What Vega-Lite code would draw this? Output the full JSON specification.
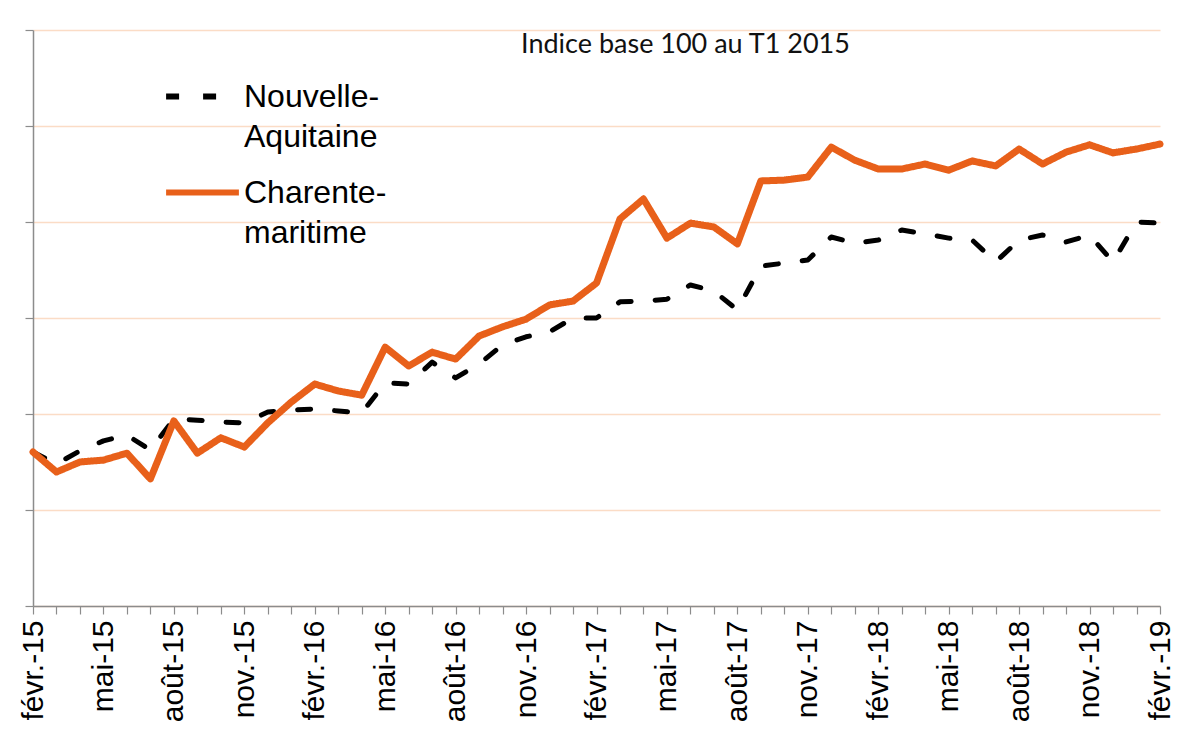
{
  "$schema": "https://vega.github.io/schema/vega-lite/v6.json",
  "width": 1127,
  "height": 576,
  "autosize": {"type": "none"},
  "padding": {"left": 33, "top": 30, "right": 34, "bottom": 126},
  "background": "white",
  "title": {
    "text": "Indice base 100 au T1 2015",
    "font": "Lato",
    "fontSize": 27,
    "fontWeight": "normal",
    "color": "#111111",
    "anchor": "middle",
    "orient": "top",
    "offset": -30,
    "dx": 89
  },
  "config": {
    "view": {"stroke": null},
    "font": "Liberation Sans"
  },
  "data": {
    "values": [
      {"mois": "févr.-15", "Nouvelle-Aquitaine": 100.01, "Charente-maritime": 100.01},
      {"mois": "mars-15", "Nouvelle-Aquitaine": 99.70, "Charente-maritime": 99.49},
      {"mois": "avr.-15", "Nouvelle-Aquitaine": 100.04, "Charente-maritime": 99.75},
      {"mois": "mai-15", "Nouvelle-Aquitaine": 100.30, "Charente-maritime": 99.80},
      {"mois": "juin-15", "Nouvelle-Aquitaine": 100.45, "Charente-maritime": 99.98},
      {"mois": "juil.-15", "Nouvelle-Aquitaine": 100.06, "Charente-maritime": 99.31},
      {"mois": "août-15", "Nouvelle-Aquitaine": 100.87, "Charente-maritime": 100.82},
      {"mois": "sept.-15", "Nouvelle-Aquitaine": 100.84, "Charente-maritime": 99.98},
      {"mois": "oct.-15", "Nouvelle-Aquitaine": 100.79, "Charente-maritime": 100.38},
      {"mois": "nov.-15", "Nouvelle-Aquitaine": 100.77, "Charente-maritime": 100.14},
      {"mois": "déc.-15", "Nouvelle-Aquitaine": 101.05, "Charente-maritime": 100.77},
      {"mois": "janv.-16", "Nouvelle-Aquitaine": 101.10, "Charente-maritime": 101.31},
      {"mois": "févr.-16", "Nouvelle-Aquitaine": 101.13, "Charente-maritime": 101.78},
      {"mois": "mars-16", "Nouvelle-Aquitaine": 101.08, "Charente-maritime": 101.60},
      {"mois": "avr.-16", "Nouvelle-Aquitaine": 101.03, "Charente-maritime": 101.49},
      {"mois": "mai-16", "Nouvelle-Aquitaine": 101.81, "Charente-maritime": 102.74},
      {"mois": "juin-16", "Nouvelle-Aquitaine": 101.78, "Charente-maritime": 102.25},
      {"mois": "juil.-16", "Nouvelle-Aquitaine": 102.35, "Charente-maritime": 102.61},
      {"mois": "août-16", "Nouvelle-Aquitaine": 101.94, "Charente-maritime": 102.43},
      {"mois": "sept.-16", "Nouvelle-Aquitaine": 102.30, "Charente-maritime": 103.03},
      {"mois": "oct.-16", "Nouvelle-Aquitaine": 102.80, "Charente-maritime": 103.27},
      {"mois": "nov.-16", "Nouvelle-Aquitaine": 103.01, "Charente-maritime": 103.47},
      {"mois": "déc.-16", "Nouvelle-Aquitaine": 103.14, "Charente-maritime": 103.84},
      {"mois": "janv.-17", "Nouvelle-Aquitaine": 103.50, "Charente-maritime": 103.94},
      {"mois": "févr.-17", "Nouvelle-Aquitaine": 103.50, "Charente-maritime": 104.41},
      {"mois": "mars-17", "Nouvelle-Aquitaine": 103.92, "Charente-maritime": 106.08},
      {"mois": "avr.-17", "Nouvelle-Aquitaine": 103.94, "Charente-maritime": 106.60},
      {"mois": "mai-17", "Nouvelle-Aquitaine": 103.99, "Charente-maritime": 105.58},
      {"mois": "juin-17", "Nouvelle-Aquitaine": 104.36, "Charente-maritime": 105.97},
      {"mois": "juil.-17", "Nouvelle-Aquitaine": 104.20, "Charente-maritime": 105.87},
      {"mois": "août-17", "Nouvelle-Aquitaine": 103.71, "Charente-maritime": 105.43},
      {"mois": "sept.-17", "Nouvelle-Aquitaine": 104.85, "Charente-maritime": 107.07},
      {"mois": "oct.-17", "Nouvelle-Aquitaine": 104.93, "Charente-maritime": 107.09},
      {"mois": "nov.-17", "Nouvelle-Aquitaine": 105.01, "Charente-maritime": 107.17},
      {"mois": "déc.-17", "Nouvelle-Aquitaine": 105.61, "Charente-maritime": 107.95},
      {"mois": "janv.-18", "Nouvelle-Aquitaine": 105.45, "Charente-maritime": 107.61},
      {"mois": "févr.-18", "Nouvelle-Aquitaine": 105.53, "Charente-maritime": 107.38},
      {"mois": "mars-18", "Nouvelle-Aquitaine": 105.79, "Charente-maritime": 107.38},
      {"mois": "avr.-18", "Nouvelle-Aquitaine": 105.69, "Charente-maritime": 107.51},
      {"mois": "mai-18", "Nouvelle-Aquitaine": 105.58, "Charente-maritime": 107.35},
      {"mois": "juin-18", "Nouvelle-Aquitaine": 105.53, "Charente-maritime": 107.59},
      {"mois": "juil.-18", "Nouvelle-Aquitaine": 104.96, "Charente-maritime": 107.46},
      {"mois": "août-18", "Nouvelle-Aquitaine": 105.53, "Charente-maritime": 107.90},
      {"mois": "sept.-18", "Nouvelle-Aquitaine": 105.66, "Charente-maritime": 107.51},
      {"mois": "oct.-18", "Nouvelle-Aquitaine": 105.48, "Charente-maritime": 107.82},
      {"mois": "nov.-18", "Nouvelle-Aquitaine": 105.66, "Charente-maritime": 108.01},
      {"mois": "déc.-18", "Nouvelle-Aquitaine": 104.96, "Charente-maritime": 107.80},
      {"mois": "janv.-19", "Nouvelle-Aquitaine": 106.00, "Charente-maritime": 107.90},
      {"mois": "févr.-19", "Nouvelle-Aquitaine": 105.97, "Charente-maritime": 108.03}
    ]
  },
  "transform": [
    {"fold": ["Nouvelle-Aquitaine", "Charente-maritime"], "as": ["serie", "valeur"]}
  ],
  "encoding": {
    "x": {
      "field": "mois",
      "type": "ordinal",
      "sort": null,
      "scale": {"type": "point", "padding": 0},
      "axis": {
        "title": null,
        "grid": false,
        "domainColor": "#8c8c8c",
        "domainWidth": 1.5,
        "tickColor": "#8c8c8c",
        "tickWidth": 1.2,
        "tickSize": 8,
        "labelAngle": -90,
        "labelAlign": "right",
        "labelBaseline": "middle",
        "labelPadding": 6,
        "labelFont": "Liberation Sans",
        "labelFontSize": 30,
        "labelColor": "#000000",
        "labelOverlap": false,
        "labelLimit": 0,
        "labelExpr": "test(/^(févr|mai|août|nov)/, datum.value) ? datum.value : ''"
      }
    },
    "y": {
      "field": "valeur",
      "type": "quantitative",
      "scale": {"domain": [96, 111], "zero": false, "nice": false},
      "axis": {
        "title": null,
        "labels": false,
        "values": [96, 98.5, 101, 103.5, 106, 108.5, 111],
        "grid": true,
        "gridColor": "#FBDCC6",
        "gridWidth": 1.5,
        "domainColor": "#8c8c8c",
        "domainWidth": 1.5,
        "tickColor": "#8c8c8c",
        "tickWidth": 1.2,
        "tickSize": 8
      }
    },
    "color": {
      "field": "serie",
      "type": "nominal",
      "scale": {"domain": ["Nouvelle-Aquitaine", "Charente-maritime"], "range": ["#000000", "#E8601A"]},
      "legend": {
        "title": null,
        "orient": "none",
        "legendX": 130,
        "legendY": 27,
        "direction": "vertical",
        "symbolType": "stroke",
        "symbolSize": 5300,
        "symbolStrokeWidth": 6,
        "labelFont": "Liberation Sans",
        "labelFontSize": 32,
        "labelColor": "#000000",
        "labelLimit": 0,
        "labelOffset": 2,
        "rowPadding": -6,
        "padding": 0,
        "labelExpr": "datum.label == 'Nouvelle-Aquitaine' ? ['Nouvelle-', 'Aquitaine'] : ['Charente-', 'maritime']",
        "encode": {"labels": {"update": {"lineHeight": {"value": 40}}}}
      }
    },
    "strokeDash": {
      "field": "serie",
      "type": "nominal",
      "scale": {"domain": ["Nouvelle-Aquitaine", "Charente-maritime"], "range": [[13, 24], [1, 0]]},
      "legend": {
        "title": null,
        "orient": "none",
        "legendX": 130,
        "legendY": 27,
        "direction": "vertical",
        "symbolType": "stroke",
        "symbolSize": 5300,
        "symbolStrokeWidth": 6,
        "labelFont": "Liberation Sans",
        "labelFontSize": 32,
        "labelColor": "#000000",
        "labelLimit": 0,
        "labelOffset": 2,
        "rowPadding": -6,
        "padding": 0,
        "labelExpr": "datum.label == 'Nouvelle-Aquitaine' ? ['Nouvelle-', 'Aquitaine'] : ['Charente-', 'maritime']",
        "encode": {"labels": {"update": {"lineHeight": {"value": 40}}}}
      }
    }
  },
  "layer": [
    {
      "transform": [{"filter": "datum.serie == 'Nouvelle-Aquitaine'"}],
      "mark": {"type": "line", "strokeWidth": 5, "strokeCap": "round", "strokeJoin": "round"}
    },
    {
      "transform": [{"filter": "datum.serie == 'Charente-maritime'"}],
      "mark": {"type": "line", "strokeWidth": 7, "strokeCap": "round", "strokeJoin": "round"}
    }
  ]
}
